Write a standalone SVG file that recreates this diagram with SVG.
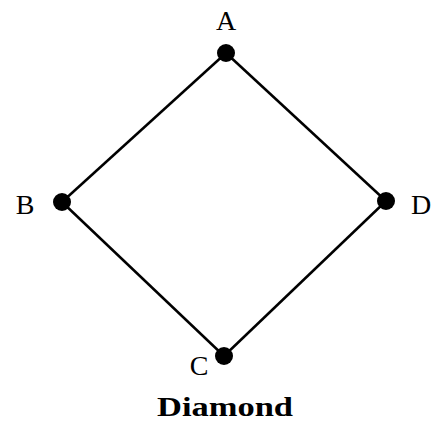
<svg xmlns="http://www.w3.org/2000/svg" width="443" height="425" viewBox="0 0 443 425">
<style>
.lbl{font-family:"Liberation Serif","DejaVu Serif",serif;font-size:28px;fill:#000;text-anchor:middle}
.title{font-family:"Liberation Serif","DejaVu Serif",serif;font-size:28px;font-weight:bold;fill:#000;text-anchor:middle}
.edge{stroke:#000;stroke-width:2.5;fill:none}
.dot{fill:#000}
</style>
<rect width="443" height="425" fill="#fff"/>
<g id="connectors">
<line class="edge" x1="226" y1="53" x2="62" y2="202"/>
<line class="edge" x1="226" y1="53" x2="386" y2="201"/>
<line class="edge" x1="62" y1="202" x2="224" y2="356"/>
<line class="edge" x1="386" y1="201" x2="224" y2="356"/>
</g>
<g id="A"><circle class="dot" cx="226" cy="53" r="9"/><text class="lbl" x="226" y="30">A</text></g>
<g id="B"><circle class="dot" cx="62" cy="202" r="9"/><text class="lbl" x="25" y="214">B</text></g>
<g id="D"><circle class="dot" cx="386" cy="201" r="9"/><text class="lbl" x="421" y="214">D</text></g>
<g id="C"><circle class="dot" cx="224" cy="356" r="9"/><text class="lbl" x="199" y="375">C</text></g>
<g id="title"><text class="title" x="225" y="416" textLength="136" lengthAdjust="spacingAndGlyphs">Diamond</text></g>
</svg>
